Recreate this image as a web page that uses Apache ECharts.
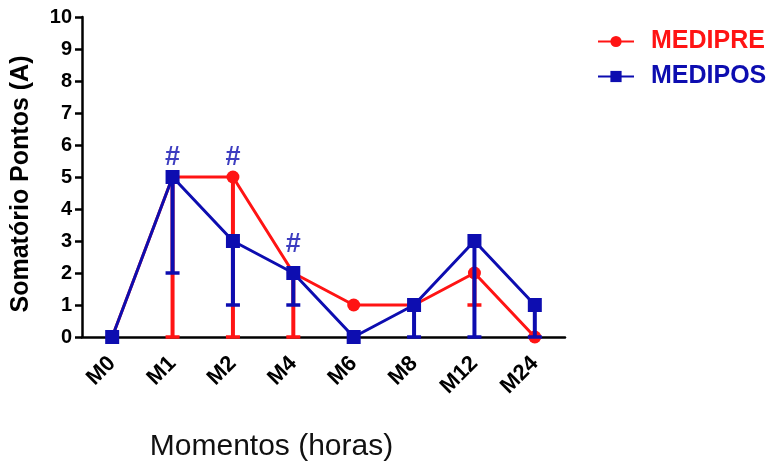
<!DOCTYPE html>
<html><head><meta charset="utf-8">
<script src="https://cdn.jsdelivr.net/npm/echarts@6/dist/echarts.min.js"></script>
<style>html,body{margin:0;padding:0;background:#fff}#c{width:773px;height:462px}</style>
</head><body><div id="c"></div>
<script>
const categories = ['M0','M1','M2','M4','M6','M8','M12','M24'];
const yTicks = [0,1,2,3,4,5,6,7,8,9,10];
const mediPre = [0,5,5,2,1,1,2,0];
const mediPreLow = [0,0,0,0,1,1,1,0];
const mediPos = [0,5,3,2,0,1,3,1];
const mediPosLow = [0,2,1,1,0,0,0,0];
const marks = [[1,5.6],[2,5.6],[3,2.9]];

const RED = '#ff1414', BLUE = '#0d0db0';
const FONT = 'Liberation Sans, Arial, sans-serif';

function errSeries(name, vals, lows, color, z) {
  return {
    type: 'custom', name: name + '_err', z: z, silent: true,
    data: vals.map((v, i) => [i, v, lows[i]]),
    renderItem: function (params, api) {
      const i = api.value(0), v = api.value(1), lo = api.value(2);
      if (v === lo) return null;
      const top = api.coord([i, v]), bot = api.coord([i, lo]);
      const hw = 7;
      return {
        type: 'group', children: [
          { type: 'line', shape: { x1: top[0], y1: top[1], x2: bot[0], y2: bot[1] }, style: { stroke: color, lineWidth: 4 } },
          { type: 'line', shape: { x1: bot[0] - hw, y1: bot[1], x2: bot[0] + hw, y2: bot[1] }, style: { stroke: color, lineWidth: 3.5 } }
        ]
      };
    }
  };
}

const chart = echarts.init(document.getElementById('c'));
chart.setOption({
  animation: false,
  grid: { left: 82, right: 208, top: 17, bottom: 125, containLabel: false, outerBoundsMode: 'none' },
  legend: {
    orient: 'vertical', left: 592, top: 24, itemGap: 10,
    itemWidth: 36, itemHeight: 14,
    data: [
      { name: 'MEDIPRE', textStyle: { color: RED } },
      { name: 'MEDIPOS', textStyle: { color: BLUE } }
    ],
    textStyle: { fontFamily: FONT, fontWeight: 'bold', fontSize: 25, padding: [0, 0, 0, 12] }
  },
  xAxis: {
    type: 'category', data: categories,
    name: 'Momentos (horas)', nameLocation: 'middle', nameGap: 95,
    nameTextStyle: { fontFamily: FONT, fontSize: 30, color: '#111', padding: [0, 104, 0, 0] },
    axisLine: { lineStyle: { color: '#000', width: 2.5 } },
    axisTick: { alignWithLabel: true, length: 7, lineStyle: { color: '#000', width: 2.5 } },
    axisLabel: { rotate: 45, margin: 23, fontFamily: FONT, fontWeight: 'bold', fontSize: 22, color: '#000' }
  },
  yAxis: {
    type: 'value', min: 0, max: 10, interval: 1,
    name: 'Somatório Pontos (A)', nameLocation: 'middle', nameGap: 48,
    nameTextStyle: { fontFamily: FONT, fontSize: 25, fontWeight: 'bold', color: '#000', padding: [0, 14, 0, 0] },
    splitLine: { show: false },
    axisLine: { show: true, lineStyle: { color: '#000', width: 2.5 } },
    axisTick: { show: true, length: 7, lineStyle: { color: '#000', width: 2.5 } },
    axisLabel: { margin: 10, fontFamily: FONT, fontWeight: 'bold', fontSize: 20, color: '#000',
      formatter: v => yTicks.includes(v) ? String(v) : '' }
  },
  series: [
    { name: 'MEDIPRE', type: 'line', data: mediPre, z: 2, color: RED,
      symbol: 'circle', symbolSize: 13,
      lineStyle: { color: RED, width: 3 }, itemStyle: { color: RED } },
    errSeries('MEDIPRE', mediPre, mediPreLow, RED, 3),
    errSeries('MEDIPOS', mediPos, mediPosLow, BLUE, 4),
    { name: 'MEDIPOS', type: 'line', data: mediPos, z: 5, color: BLUE,
      symbol: 'rect', symbolSize: 14,
      lineStyle: { color: BLUE, width: 3 }, itemStyle: { color: BLUE } },
    { name: 'marks', type: 'scatter', data: marks, symbolSize: 1, z: 6, silent: true,
      itemStyle: { color: 'rgba(0,0,0,0)' },
      label: { show: true, position: 'inside', formatter: '#', color: BLUE, fontFamily: FONT, fontWeight: 'bold', fontSize: 27 } }
  ]
});
</script></body></html>
